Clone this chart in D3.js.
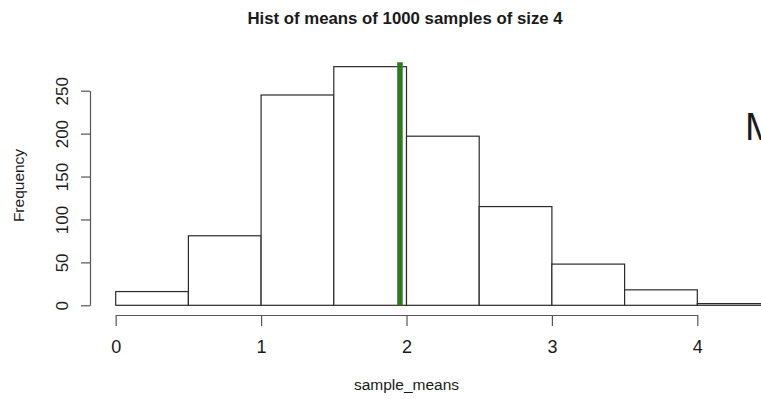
<!DOCTYPE html>
<html>
<head>
<meta charset="utf-8">
<script src="https://cdn.jsdelivr.net/npm/d3@7"></script>
<style>
  html, body { margin: 0; padding: 0; background: #fff; }
  svg { display: block; }
  text { font-family: "Liberation Sans", Arial, sans-serif; fill: #1a1a1a; }
</style>
</head>
<body>
<svg id="chart" width="761" height="399"></svg>
<script>
// Histogram bins (left edges, width 0.5) and their counts
const binStarts = [0, 0.5, 1, 1.5, 2, 2.5, 3, 3.5, 4];
const counts    = [16, 81, 245, 278, 197, 115, 48, 18, 2];
const binWidth  = 0.5;
const xTicks    = [0, 1, 2, 3, 4];
const yTicks    = [0, 50, 100, 150, 200, 250];
const meanValue = 1.955;
const meanLineTop = 283;

const svg = d3.select("#chart");

const x = d3.scaleLinear().domain([0, 4]).range([115.7, 697.3]);
const y = d3.scaleLinear().domain([0, 250]).range([305.3, 90.7]);

// bars
svg.append("g")
  .selectAll("rect")
  .data(binStarts.map((s, i) => ({ s, c: counts[i] })))
  .join("rect")
  .attr("x", d => x(d.s))
  .attr("y", d => y(d.c))
  .attr("width", d => x(d.s + binWidth) - x(d.s))
  .attr("height", d => y(0) - y(d.c))
  .attr("fill", "#fff")
  .attr("stroke", "#2a2a2a")
  .attr("stroke-width", 1.2);

// vertical mean line
svg.append("line")
  .attr("x1", x(meanValue)).attr("x2", x(meanValue))
  .attr("y1", y(0)).attr("y2", y(meanLineTop))
  .attr("stroke", "#2f7a1f")
  .attr("stroke-width", 5.5);

// x axis
const xAxis = d3.axisBottom(x)
  .tickValues(xTicks)
  .tickFormat(d3.format("d"))
  .tickSize(11)
  .tickSizeOuter(0)
  .tickPadding(14);
const gx = svg.append("g")
  .attr("transform", "translate(0,315)")
  .call(xAxis);
gx.select(".domain").attr("stroke", "#555").attr("stroke-width", 1.2);
gx.selectAll(".tick line").attr("stroke", "#555").attr("stroke-width", 1.2);
gx.selectAll(".tick text")
  .attr("font-size", 18)
  .attr("font-family", "Liberation Sans, Arial, sans-serif")
  .attr("fill", "#1a1a1a");

// y axis with labels parallel to the axis
const yAxis = d3.axisLeft(y)
  .tickValues(yTicks)
  .tickSize(9)
  .tickSizeOuter(0);
const gy = svg.append("g")
  .attr("transform", "translate(90,0)")
  .call(yAxis);
gy.select(".domain").attr("stroke", "#555").attr("stroke-width", 1.2);
gy.selectAll(".tick line").attr("stroke", "#555").attr("stroke-width", 1.2);
gy.selectAll(".tick text")
  .attr("transform", "rotate(-90)")
  .attr("x", 0)
  .attr("y", -22)
  .attr("dy", null)
  .attr("text-anchor", "middle")
  .attr("font-size", 17)
  .attr("font-family", "Liberation Sans, Arial, sans-serif")
  .attr("fill", "#1a1a1a");

// title
svg.append("text")
  .attr("x", 405)
  .attr("y", 23.5)
  .attr("text-anchor", "middle")
  .attr("font-size", 16.8)
  .attr("font-weight", "bold")
  .text("Hist of means of 1000 samples of size 4");

// axis titles
svg.append("text")
  .attr("x", 406.5)
  .attr("y", 390)
  .attr("text-anchor", "middle")
  .attr("font-size", 15.5)
  .text("sample_means");

svg.append("text")
  .attr("transform", "translate(23.5,185.5) rotate(-90)")
  .attr("text-anchor", "middle")
  .attr("font-size", 15.5)
  .text("Frequency");

// large letter at the right edge
svg.append("text")
  .attr("x", 745)
  .attr("y", 140)
  .attr("font-size", 38)
  .attr("fill", "#111")
  .text("M");
</script>
</body>
</html>
